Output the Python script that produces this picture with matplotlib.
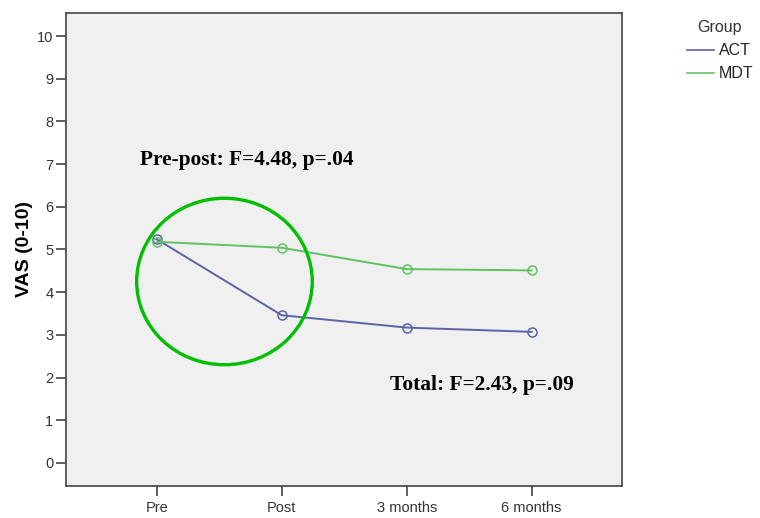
import matplotlib
matplotlib.use("Agg")
import matplotlib.pyplot as plt
from matplotlib.patches import Ellipse
from matplotlib.lines import Line2D

# Mean VAS scores per time point for each treatment group
timepoints = ["Pre", "Post", "3 months", "6 months"]
act_scores = [5.24, 3.46, 3.17, 3.07]
mdt_scores = [5.18, 5.04, 4.54, 4.51]
y_ticks = list(range(0, 11))

act_color = "#5b63a8"
mdt_color = "#62c262"

fig = plt.figure(figsize=(7.6, 5.18), dpi=100)
ax = fig.add_axes([0.0868, 0.0618, 0.818 - 0.0868, 0.975 - 0.0618])
ax.set_facecolor("#f0f0f0")

x = list(range(len(timepoints)))
ax.plot(x, act_scores, color=act_color, lw=1.4, marker="o", ms=6.5,
        mfc="none", mec=act_color, mew=1.1)
ax.plot(x, mdt_scores, color=mdt_color, lw=1.4, marker="o", ms=6.5,
        mfc="none", mec=mdt_color, mew=1.1)

# Highlight the pre-to-post change
ax.add_patch(Ellipse((0.542, 4.25), 1.405, 3.90, fill=False,
                     edgecolor="#00bf00", lw=2.4, zorder=5))

ax.text(-0.13, 7.09, "Pre-post: F=4.48, p=.04", fontsize=15.4, fontweight="bold",
        family="Liberation Serif", va="center", ha="left")
ax.text(1.87, 1.82, "Total: F=2.43, p=.09", fontsize=15.4, fontweight="bold",
        family="Liberation Serif", va="center", ha="left")

ax.set_xlim(-0.726, 3.72)
ax.set_ylim(-0.54, 10.54)
ax.set_xticks(x)
ax.set_xticklabels(timepoints)
ax.set_yticks(y_ticks)
ax.tick_params(direction="out", length=7, width=1.2, color="#444444",
               labelsize=10.5, labelcolor="#333333")
ax.tick_params(axis="y", pad=2)
ax.tick_params(axis="x", pad=4)
for lab in ax.get_xticklabels() + ax.get_yticklabels():
    lab.set_family("Liberation Sans")
for sp in ax.spines.values():
    sp.set_color("#444444")
    sp.set_linewidth(1.2)

ax.set_ylabel("VAS (0-10)", fontsize=14, fontweight="bold",
              family="Liberation Sans", labelpad=3)

handles = [Line2D([], [], color=act_color, lw=1.2),
           Line2D([], [], color=mdt_color, lw=1.2)]
leg = fig.legend(handles, ["ACT", "MDT"], title="Group", loc="upper left",
                 bbox_to_anchor=(0.895, 0.973), frameon=False,
                 prop={"family": "Liberation Sans", "size": 11.5},
                 handlelength=1.7, handletextpad=0.3, labelspacing=0.5,
                 borderaxespad=0)
leg.get_title().set_family("Liberation Sans")
leg.get_title().set_fontsize(11.5)
leg.get_title().set_color("#333333")
for t in leg.get_texts():
    t.set_color("#222222")

fig.savefig("out.png", dpi=100)
